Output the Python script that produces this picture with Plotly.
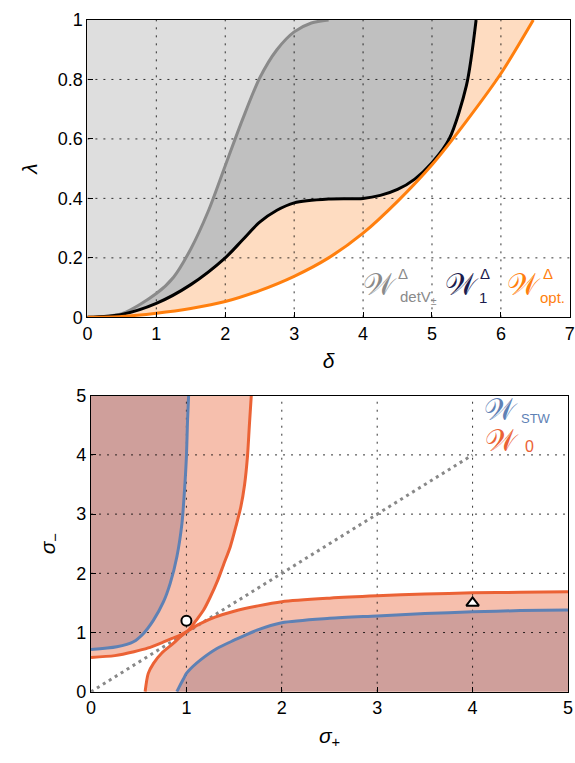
import plotly.graph_objects as go

# ---------------- top panel: lambda vs delta ----------------
detv_x = [0, 0.5, 1.0, 1.25, 1.5, 1.75, 2.0, 2.25, 2.5, 2.75, 3.0, 3.25, 3.5]
detv_y = [0, 0.012, 0.08, 0.135, 0.23, 0.355, 0.51, 0.665, 0.805, 0.9, 0.96, 0.99, 1.0]

w1_x = [0, 0.5, 1.0, 1.5, 2.0, 2.25, 2.5, 2.75, 3.0, 3.5, 4.0, 4.25, 4.5, 4.75, 5.0, 5.25, 5.5, 5.64]
w1_y = [0, 0.01, 0.047, 0.11, 0.2, 0.26, 0.32, 0.36, 0.385, 0.398, 0.40, 0.41, 0.43, 0.465, 0.52, 0.6, 0.78, 1.0]

opt_x = [0, 0.5, 1.0, 1.5, 2.0, 2.5, 3.0, 3.5, 4.0, 4.5, 5.0, 5.5, 6.0, 6.47]
opt_y = [0, 0.003, 0.014, 0.03, 0.053, 0.09, 0.138, 0.2, 0.283, 0.39, 0.513, 0.66, 0.82, 1.0]

delta_ticks = [0, 1, 2, 3, 4, 5, 6, 7]
lambda_ticks = [0, 0.2, 0.4, 0.6, 0.8, 1.0]
lambda_ticktext = ["0", "0.2", "0.4", "0.6", "0.8", "1"]

# ---------------- bottom panel: sigma_- vs sigma_+ ----------------
# W_0 boundary: two branches crossing near the diagonal
w0_a_left_x = [0, 0.25, 0.45, 0.6, 0.725, 0.85, 0.935, 1.02]
w0_a_left_y = [0.58, 0.61, 0.675, 0.74, 0.816, 0.9, 0.957, 1.035]
w0_a_right_x = [1.02, 1.145, 1.3, 1.5, 1.75, 2.0, 2.5, 3.0, 3.5, 4.0, 4.5, 5.0]
w0_a_right_y = [1.035, 1.15, 1.26, 1.36, 1.45, 1.52, 1.58, 1.62, 1.65, 1.67, 1.68, 1.69]
w0_b_low_x = [0.567, 0.6, 0.655, 0.74, 0.865, 0.95, 1.02]
w0_b_low_y = [0, 0.31, 0.48, 0.65, 0.82, 0.95, 1.035]
w0_b_up_x = [1.02, 1.1, 1.18, 1.25, 1.33, 1.39, 1.46, 1.52, 1.57, 1.61, 1.64, 1.66, 1.68]
w0_b_up_y = [1.035, 1.2, 1.38, 1.6, 1.89, 2.15, 2.45, 2.8, 3.12, 3.5, 3.97, 4.5, 5.0]

# W_STW boundary: two separate branches
stw_ul_x = [0, 0.27, 0.445, 0.55, 0.655, 0.76, 0.83, 0.9, 0.953, 0.98, 1.0, 1.012, 1.023]
stw_ul_y = [0.715, 0.76, 0.845, 0.985, 1.21, 1.52, 1.83, 2.28, 2.84, 3.4, 3.97, 4.59, 5.0]
stw_lr_x = [0.9, 0.93, 0.97, 1.0, 1.07, 1.145, 1.32, 1.5, 1.74, 2.0, 2.5, 3.0, 3.5, 4.0, 4.5, 5.0]
stw_lr_y = [0, 0.1, 0.22, 0.31, 0.43, 0.535, 0.73, 0.87, 1.04, 1.165, 1.24, 1.28, 1.32, 1.35, 1.37, 1.38]

diag_x = [0, 4]
diag_y = [0, 4]
circle_pt = (1.0, 1.2)
triangle_pt = (4.0, 1.5)

sigma_ticks = [0, 1, 2, 3, 4, 5]

# ---------------- styling ----------------
C_LIGHTGRAY = "#dedede"
C_MIDGRAY = "#c0c0c0"
C_PEACH = "#fedcc1"
C_GRAYLINE = "#8a8a8a"
C_OPT = "#ff7f0e"
C_NAVY = "#1b1b4d"
C_DARK = "#cf9f9b"
C_SALMON = "#f6bfad"
C_BLUE = "#5e81b5"
C_RED = "#eb6235"
GRID_DASH = "2px,6px"
FONT = "Liberation Sans, Arial, sans-serif"
SMOOTH = 0.8

X1 = (0, 7)
Y1 = (0, 1)
X2 = (0, 5)
Y2 = (0, 5)

fig = go.Figure()


def fill_region(xs, ys, corner, color, xa, ya):
    """Fill between a smooth boundary and the frame corner that closes it.

    An invisible straight path start -> corner -> end is laid down first;
    the boundary trace then fills to it, so the filled edge follows exactly
    the same spline as the drawn boundary line.
    """
    fig.add_trace(go.Scatter(x=[xs[0], corner[0], xs[-1]], y=[ys[0], corner[1], ys[-1]],
                             mode="lines", line=dict(width=0, color=color),
                             hoverinfo="skip", showlegend=False, xaxis=xa, yaxis=ya))
    fig.add_trace(go.Scatter(x=xs, y=ys, mode="lines", fill="tonexty", fillcolor=color,
                             line=dict(width=0, color=color, shape="spline", smoothing=SMOOTH),
                             hoverinfo="skip", showlegend=False, xaxis=xa, yaxis=ya))


def line(xs, ys, color, xa, ya, width=3, dash="solid", shape="spline"):
    fig.add_trace(go.Scatter(x=xs, y=ys, mode="lines",
                             line=dict(color=color, width=width, dash=dash,
                                       shape=shape, smoothing=SMOOTH),
                             hoverinfo="skip", showlegend=False,
                             xaxis=xa, yaxis=ya))


def grid(xticks, yticks, xr, yr, xa, ya):
    gx, gy = [], []
    for v in xticks:
        if xr[0] < v < xr[1]:
            gx += [v, v, None]
            gy += [yr[0], yr[1], None]
    for v in yticks:
        if yr[0] < v < yr[1]:
            gx += [xr[0], xr[1], None]
            gy += [v, v, None]
    fig.add_trace(go.Scatter(x=gx, y=gy, mode="lines",
                             line=dict(color="rgba(0,0,0,0.8)", width=1, dash=GRID_DASH),
                             hoverinfo="skip", showlegend=False,
                             xaxis=xa, yaxis=ya))


# top fills: region above each boundary, closed through the top-left corner
top_left_1 = (X1[0], Y1[1])
fill_region(opt_x, opt_y, top_left_1, C_PEACH, "x", "y")
fill_region(w1_x, w1_y, top_left_1, C_MIDGRAY, "x", "y")
fill_region(detv_x, detv_y, top_left_1, C_LIGHTGRAY, "x", "y")
grid(delta_ticks, lambda_ticks, X1, Y1, "x", "y")
line(detv_x, detv_y, C_GRAYLINE, "x", "y")
line(w1_x, w1_y, "#000000", "x", "y")
line(opt_x, opt_y, C_OPT, "x", "y")

# bottom fills: W_0 sectors, then W_STW sectors on top
top_left_2 = (X2[0], Y2[1])
bottom_right_2 = (X2[1], Y2[0])
fill_region(w0_a_left_x + w0_b_up_x[1:], w0_a_left_y + w0_b_up_y[1:], top_left_2, C_SALMON, "x2", "y2")
fill_region(w0_b_low_x + w0_a_right_x[1:], w0_b_low_y + w0_a_right_y[1:], bottom_right_2, C_SALMON, "x2", "y2")
fill_region(stw_ul_x, stw_ul_y, top_left_2, C_DARK, "x2", "y2")
fill_region(stw_lr_x, stw_lr_y, bottom_right_2, C_DARK, "x2", "y2")
grid(sigma_ticks, sigma_ticks, X2, Y2, "x2", "y2")
line(diag_x, diag_y, "#888888", "x2", "y2", width=3, dash="3px,4px", shape="linear")
line(stw_ul_x, stw_ul_y, C_BLUE, "x2", "y2")
line(stw_lr_x, stw_lr_y, C_BLUE, "x2", "y2")
line(w0_a_left_x + w0_a_right_x[1:], w0_a_left_y + w0_a_right_y[1:], C_RED, "x2", "y2")
line(w0_b_low_x + w0_b_up_x[1:], w0_b_low_y + w0_b_up_y[1:], C_RED, "x2", "y2")

fig.add_trace(go.Scatter(x=[circle_pt[0]], y=[circle_pt[1]], mode="markers",
                         marker=dict(symbol="circle", size=10, color="white",
                                     line=dict(color="black", width=2)),
                         hoverinfo="skip", showlegend=False, xaxis="x2", yaxis="y2"))
fig.add_trace(go.Scatter(x=[triangle_pt[0]], y=[triangle_pt[1]], mode="markers",
                         marker=dict(symbol="triangle-up", size=11, color="white",
                                     line=dict(color="black", width=2)),
                         hoverinfo="skip", showlegend=False, xaxis="x2", yaxis="y2"))

axis_common = dict(showgrid=False, zeroline=False, showline=True, mirror=True,
                   linecolor="black", linewidth=1.2, ticks="inside", ticklen=5,
                   tickwidth=1, tickcolor="black", automargin=False,
                   tickfont=dict(family=FONT, size=18, color="black"))

fig.update_layout(
    width=575, height=763,
    margin=dict(l=0, r=0, t=0, b=0),
    paper_bgcolor="white", plot_bgcolor="white",
    font=dict(family=FONT, color="black"),
    xaxis=dict(domain=[0.152, 0.991], range=list(X1), tickvals=delta_ticks,
               anchor="y", title=dict(text="<i>δ</i>", font=dict(size=21), standoff=10),
               **axis_common),
    yaxis=dict(domain=[0.5841, 0.9738], range=list(Y1), tickvals=lambda_ticks,
               ticktext=lambda_ticktext, anchor="x",
               title=dict(text="<i>λ</i>", font=dict(size=21), standoff=14),
               **axis_common),
    xaxis2=dict(domain=[0.1583, 0.9878], range=list(X2), tickvals=sigma_ticks,
                anchor="y2", title=dict(text="<i>σ</i><sub>+</sub>", font=dict(size=21), standoff=10),
                **axis_common),
    yaxis2=dict(domain=[0.0934, 0.4814], range=list(Y2), tickvals=sigma_ticks,
                anchor="x2", title=dict(text="<i>σ</i><sub>−</sub>", font=dict(size=21), standoff=14),
                **axis_common),
)

SCRIPT_W = "𝒲"


def label(x, y, text, color, size, xa, ya, xanchor="center"):
    fig.add_annotation(x=x, y=y, xref=xa, yref=ya, text=text, showarrow=False,
                       xanchor=xanchor, yanchor="middle",
                       font=dict(family=FONT, size=size, color=color))


# top legend labels
label(4.25, 0.112, SCRIPT_W, C_GRAYLINE, 30, "x", "y")
label(4.58, 0.148, "Δ", C_GRAYLINE, 15, "x", "y")
label(4.50, 0.068, "detV<sub>±</sub>", C_GRAYLINE, 15, "x", "y", xanchor="left")
label(5.43, 0.112, SCRIPT_W, C_NAVY, 30, "x", "y")
label(5.77, 0.148, "Δ", C_NAVY, 15, "x", "y")
label(5.74, 0.066, "1", C_NAVY, 15, "x", "y")
label(6.33, 0.112, SCRIPT_W, C_OPT, 30, "x", "y")
label(6.69, 0.148, "Δ", C_OPT, 15, "x", "y")
label(6.75, 0.066, "opt.", C_OPT, 15, "x", "y")

# bottom legend labels
label(4.30, 4.76, SCRIPT_W, C_BLUE, 30, "x2", "y2")
label(4.66, 4.62, "STW", C_BLUE, 13, "x2", "y2")
label(4.31, 4.24, SCRIPT_W, C_RED, 30, "x2", "y2")
label(4.60, 4.14, "0", C_RED, 16, "x2", "y2")

fig.write_html("out.html")
